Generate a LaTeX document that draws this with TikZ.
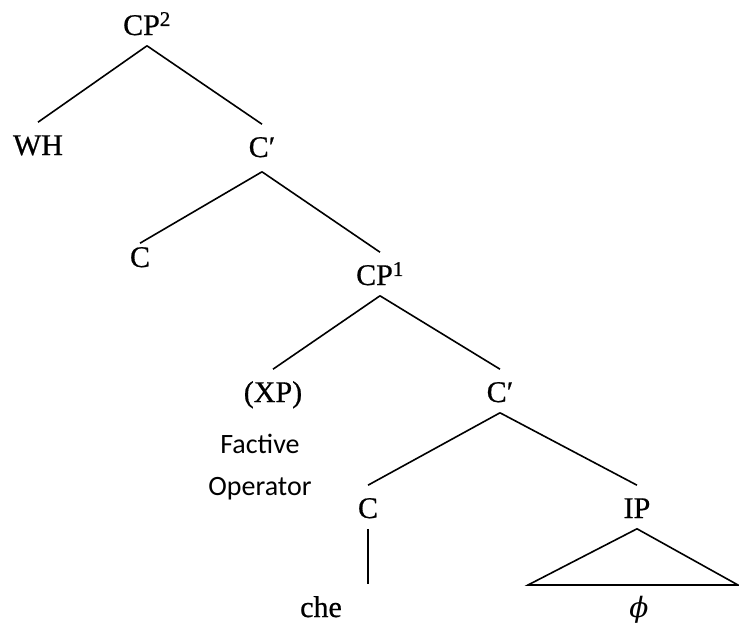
\documentclass[tikz,border=0pt]{standalone}
\usepackage{fontspec}
\setmainfont{Liberation Serif}[FakeBold=0.6]
\newfontfamily\notefont{Carlito}
\newfontfamily\greekfont{DejaVu Serif}

\begin{document}
\begin{tikzpicture}[
        x=1pt, y=-1pt,
        line width=1.6pt,
        every node/.style={anchor=base, inner sep=0pt, text height=32pt, text depth=10pt,
            font=\fontsize{30}{36}\selectfont},
        note/.style={text height=20pt, text depth=6pt, font=\notefont\fontsize{28}{34}\selectfont}
    ]
    \useasboundingbox (0,0) rectangle (739,624);

    % categories
    \node (cp2) at (147,35) {CP\textsuperscript{2}};
    \node (wh) at (38,155) {WH};
    \node[text depth=14pt] (cbar1) at (262,157) {C′};
    \node[text height=23pt] (c1) at (140,267) {C};
    \node (cp1) at (380,285) {CP\textsuperscript{1}};
    \node (xp) at (273,402) {(XP)};
    \node (cbar2) at (500,402) {C′};
    \node (c2) at (368,518) {C};
    \node (ip) at (637,518) {IP};
    \node (che) at (321,617) {che};
    \node (phi) at (639,617) {\greekfont\itshape\fontsize{28}{32}\selectfont ϕ};

    % gloss under (XP)
    \node[note] (factive) at (260,453) {Factive};
    \node[note] (operator) at (260,495) {Operator};

    \coordinate (ipleft) at (528,585);
    \coordinate (ipright) at (738,585);

    % branches
    \draw (cp2.south) -- (wh.north) (cp2.south) -- (cbar1.north);
    \draw (cbar1.south) -- (c1.north) (cbar1.south) -- (cp1.north);
    \draw (cp1.south) -- (xp.north) (cp1.south) -- (cbar2.north);
    \draw (cbar2.south) -- (c2.north) (cbar2.south) -- (ip.north);
    \draw (c2.south) -- (c2.south |- che.north);
    \draw (ipleft) -- (ip.south) -- (ipright) -- cycle;
\end{tikzpicture}
\end{document}
